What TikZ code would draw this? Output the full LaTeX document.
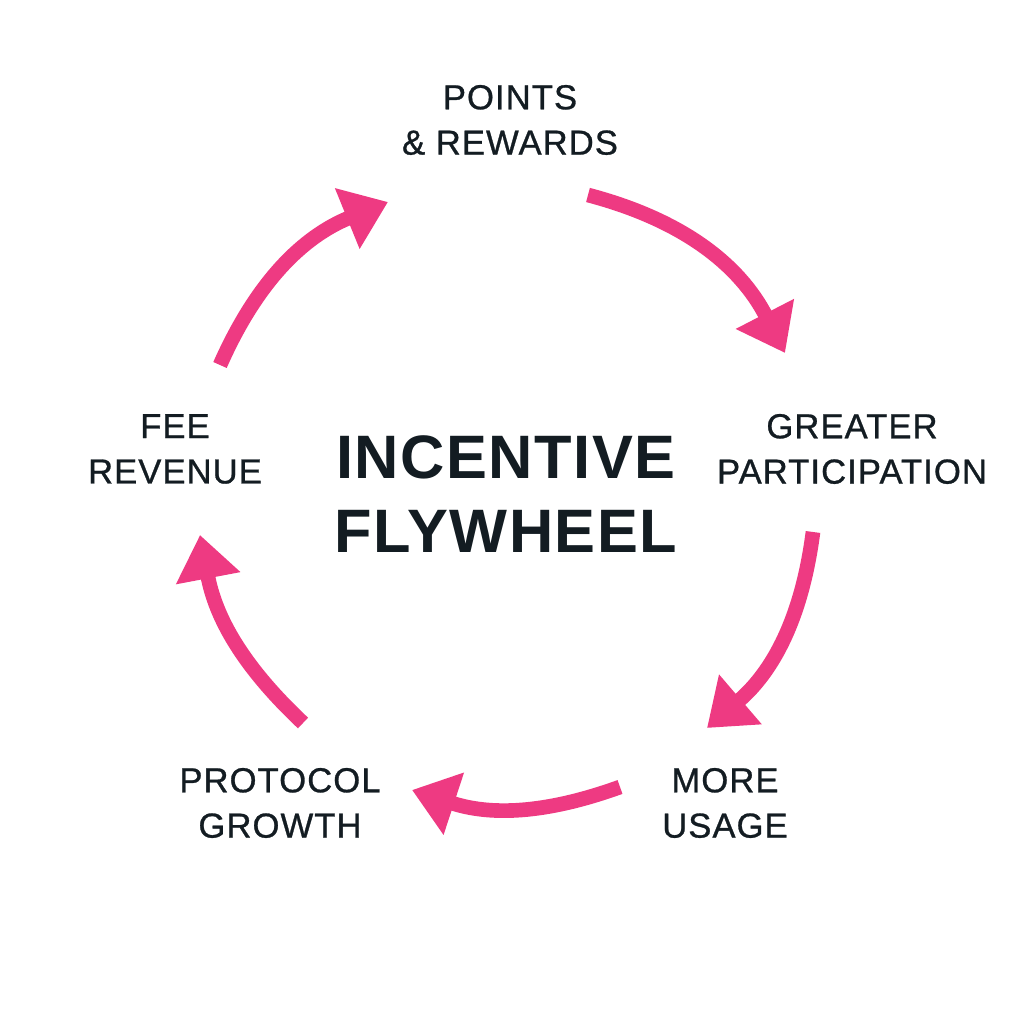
\documentclass[tikz,border=0pt]{standalone}
\usepackage{fontspec}
\setmainfont{Liberation Sans}
\newfontfamily\lblfont[LetterSpace=3,FakeBold=0.8]{Liberation Sans}
\newfontfamily\ttlfont[LetterSpace=2.5]{Liberation Sans}
\usetikzlibrary{arrows.meta}
\definecolor{flypink}{HTML}{EE3A82}
\definecolor{flyink}{HTML}{131C22}
\tikzset{
  lbl/.style={align=center, inner sep=0pt, text=flyink,
    font=\lblfont\fontsize{26}{34}\selectfont},
  ttl/.style={align=center, inner sep=0pt, text=flyink,
    font=\ttlfont\bfseries\fontsize{46}{56}\selectfont},
  flyarrow/.style={draw=flypink, line width=11pt,
    -{Triangle[length=33pt,width=47pt]}, fill=none}
}
\begin{document}
\begin{tikzpicture}[x=0.75pt,y=0.75pt]
\useasboundingbox[fill=white] (0,0) rectangle (1024,1024);
% labels
\node[ttl] (center) at (506,530) {INCENTIVE\\FLYWHEEL};
\node[lbl] (points) at (510,904) {POINTS\\\& REWARDS};
\node[lbl] (greater) at (852,575) {GREATER\\PARTICIPATION};
\node[lbl] (more) at (725,221) {MORE\\USAGE};
\node[lbl] (protocol) at (280,221) {PROTOCOL\\GROWTH};
\node[lbl] (fee) at (175,575) {FEE\\REVENUE};
% arrow ends
\coordinate (a1s) at (588,829);
\coordinate (a1e) at (785,671);
\coordinate (a2s) at (813,492);
\coordinate (a2e) at (707,296);
\coordinate (a3s) at (620,237);
\coordinate (a3e) at (412,234);
\coordinate (a4s) at (303,301);
\coordinate (a4e) at (200,489);
\coordinate (a5s) at (220,659);
\coordinate (a5e) at (388,822);
% arrows
\draw[flyarrow] (a1s) to[bend left=24] (a1e);
\draw[flyarrow] (a2s) to[bend left=21] (a2e);
\draw[flyarrow] (a3s) to[bend left=19] (a3e);
\draw[flyarrow] (a4s) to[bend left=18] (a4e);
\draw[flyarrow] (a5s) to[bend left=22] (a5e);
\end{tikzpicture}
\end{document}
